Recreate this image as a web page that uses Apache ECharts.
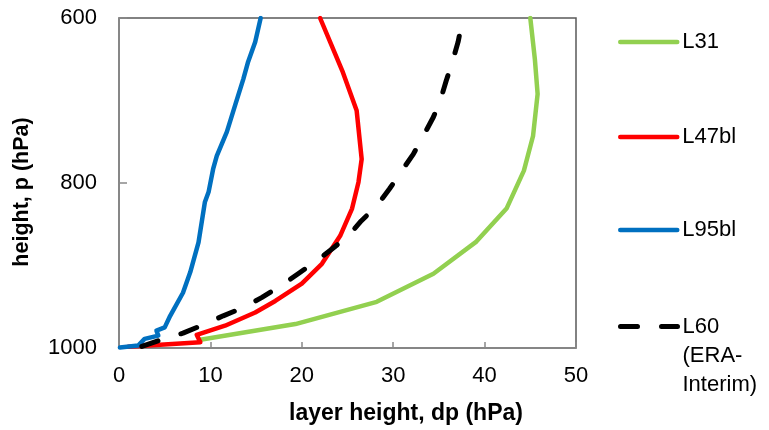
<!DOCTYPE html>
<html>
<head>
<meta charset="utf-8">
<script src="https://cdn.jsdelivr.net/npm/echarts@6/dist/echarts.min.js"></script>
<style>
  html, body { margin: 0; padding: 0; background: #fff; }
  #chart { width: 769px; height: 430px; }
</style>
</head>
<body>
<div id="chart"></div>
<script>
// layer thickness dp (hPa) against pressure p (hPa), bottom to top
const l31Dp = [8.9, 19.3, 28.2, 34.4, 39.1, 42.4, 44.3, 45.3, 45.8, 45.5, 45.0]
const l31P = [990, 971, 944, 910, 871, 831, 785, 743, 692, 650, 600]

const l47Dp = [1.0, 8.9, 8.5, 11.6, 14.9, 17.1, 20.0, 22.2, 24.2, 25.5, 26.2, 26.55, 26.0, 24.5, 22.0]
const l47P = [998.5, 993, 984, 973, 957, 943, 922, 898, 864, 831, 799, 771, 712, 666, 600]

const l95Dp = [0.1, 2.1, 2.8, 4.3, 4.1, 5.0, 5.6, 7.0, 7.8, 8.7, 9.4, 9.8, 10.3, 10.7, 11.8, 12.7, 13.6, 14.1, 14.9, 15.5]
const l95P = [999.5, 997, 989, 985, 979, 975, 961, 933, 908, 872, 823, 811, 783, 767, 738, 706, 674, 654, 629, 600]

const l60Dp = [2.5, 4.9, 7.0, 9.4, 11.4, 13.6, 15.6, 17.8, 19.6, 21.4, 23.3, 25.1, 26.5, 28.2, 29.6, 30.7, 32.2, 33.1, 34.4, 35.1, 35.8, 36.4, 37.1, 37.5]
const l60P = [998, 989, 982, 971, 961, 951, 939, 924, 910, 896, 880, 864, 846, 828, 807, 789, 765, 747, 720, 702, 676, 656, 629, 607]

const xTicks = { min: 0, max: 50, interval: 10 }
const yTicks = { min: 600, max: 1000, interval: 200 }

const pairs = (xs, ys) => xs.map((x, i) => [x, ys[i]])

const FONT = 'Liberation Sans, Arial, sans-serif'
const AXIS_GRAY = '#898989'

const chart = echarts.init(document.getElementById('chart'), null, { renderer: 'canvas' })

const mkLine = (name, color, xs, ys, extra) => ({
  name,
  type: 'line',
  data: pairs(xs, ys),
  symbol: 'none',
  smooth: false,
  animation: false,
  lineStyle: Object.assign({ color, width: 4.5, cap: 'round', join: 'round' }, extra || {}),
  itemStyle: { color },
})

const legendBase = {
  orient: 'vertical',
  left: 618,
  padding: 0,
  itemWidth: 57,
  itemHeight: 14,
  itemGap: 0,
  selectedMode: false,
  itemStyle: { opacity: 0, borderWidth: 0 },
  lineStyle: { width: 4.5 },
  textStyle: { fontFamily: FONT, fontSize: 22, color: '#000', lineHeight: 24 },
}

chart.setOption({
  animation: false,
  grid: {
    left: 119, right: 193, top: 18, bottom: 81,
    show: true, borderColor: '#5a5a5a', borderWidth: 1.5, backgroundColor: 'transparent',
  },
  legend: [
    Object.assign({}, legendBase, { top: 30, data: ['L31'] }),
    Object.assign({}, legendBase, { top: 125, data: ['L47bl'] }),
    Object.assign({}, legendBase, { top: 218, data: ['L95bl'] }),
    Object.assign({}, legendBase, {
      top: 254,
      data: ['L60 (ERA-Interim)'],
      lineStyle: { width: 5 },
      formatter: () => '\n\nL60\n(ERA-\nInterim)',
      textStyle: { fontFamily: FONT, fontSize: 22, color: '#000', lineHeight: 29 },
    }),
  ],
  xAxis: {
    type: 'value',
    min: xTicks.min, max: xTicks.max, interval: xTicks.interval,
    name: 'layer height, dp (hPa)',
    nameLocation: 'middle',
    nameGap: 54,
    nameTextStyle: { fontFamily: FONT, fontSize: 23, fontWeight: 'bold', color: '#000', padding: [0, 0, 0, 117] },
    axisLine: { show: true, lineStyle: { color: AXIS_GRAY, width: 1.5 } },
    axisTick: { show: true, inside: true, length: 6, lineStyle: { color: AXIS_GRAY, width: 1.5 } },
    axisLabel: { fontFamily: FONT, fontSize: 22, color: '#000', margin: 17 },
    splitLine: { show: false },
  },
  yAxis: {
    type: 'value',
    inverse: true,
    min: yTicks.min, max: yTicks.max, interval: yTicks.interval,
    name: 'height, p (hPa)',
    nameLocation: 'middle',
    nameGap: 86,
    nameTextStyle: { fontFamily: FONT, fontSize: 21.5, fontWeight: 'bold', color: '#000', padding: [0, 18, 0, 0] },
    axisLine: { show: true, lineStyle: { color: AXIS_GRAY, width: 1.5 } },
    axisTick: { show: true, inside: true, length: 8, lineStyle: { color: AXIS_GRAY, width: 1.5 } },
    axisLabel: { fontFamily: FONT, fontSize: 22, color: '#000', margin: 22, formatter: (v) => String(v) },
    splitLine: { show: false },
  },
  series: [
    mkLine('L31', '#92D050', l31Dp, l31P),
    mkLine('L47bl', '#FF0000', l47Dp, l47P),
    mkLine('L95bl', '#0070C0', l95Dp, l95P),
    mkLine('L60 (ERA-Interim)', '#000000', l60Dp, l60P, { width: 5, type: [17, 24] }),
  ],
})
</script>
</body>
</html>
